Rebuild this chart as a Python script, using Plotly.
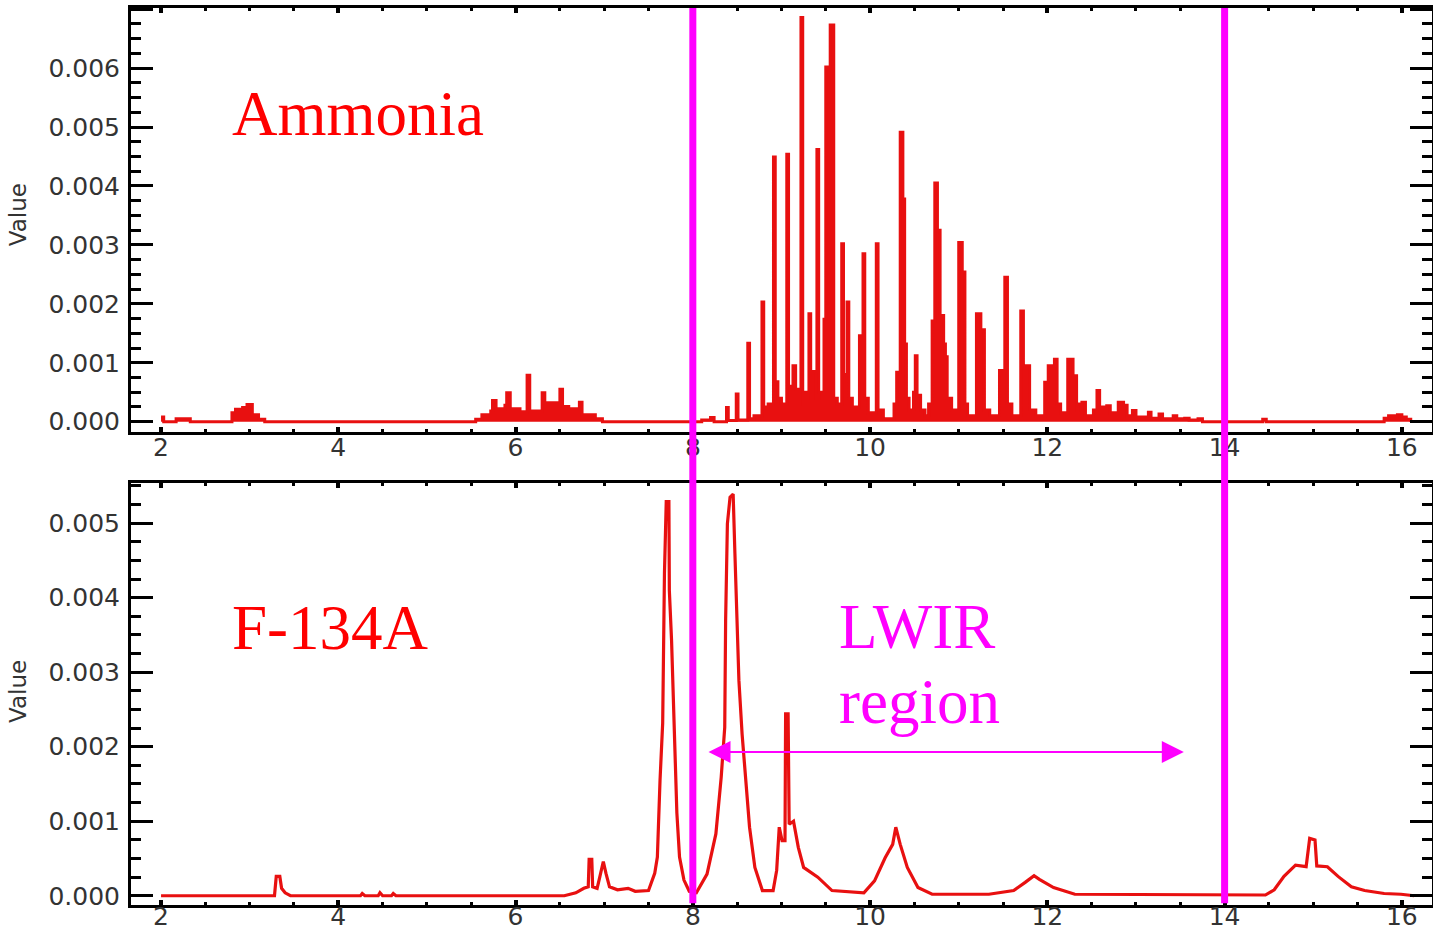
import plotly.graph_objects as go

# ---------------- data ----------------
amm_x = [2.00, 2.03, 2.17, 2.33, 2.80, 2.84, 2.92, 2.97, 3.03, 3.10, 3.17,
         5.55, 5.62, 5.72, 5.74, 5.78, 5.88, 5.90, 5.94, 6.05, 6.13, 6.16,
         6.30, 6.33, 6.50, 6.53, 6.60, 6.72, 6.75, 6.90, 6.98,
         8.10, 8.20, 8.24, 8.38, 8.40, 8.49, 8.51, 8.62, 8.64, 8.69, 8.78, 8.80,
         8.85, 8.91, 8.93, 8.96, 9.00, 9.06, 9.08, 9.13, 9.16, 9.22, 9.24, 9.26,
         9.31, 9.33, 9.36, 9.40, 9.42, 9.46, 9.48, 9.50, 9.55, 9.59, 9.63, 9.68,
         9.70, 9.74, 9.76, 9.80, 9.88, 9.90, 9.92, 9.94, 9.98, 10.07, 10.09,
         10.15, 10.27, 10.30, 10.34, 10.37, 10.39, 10.41, 10.44, 10.49, 10.51,
         10.53, 10.57, 10.62, 10.66, 10.70, 10.73, 10.76, 10.79, 10.83, 10.85,
         10.87, 10.92, 11.00, 11.04, 11.07, 11.10, 11.20, 11.25, 11.29, 11.35,
         11.46, 11.52, 11.55, 11.60, 11.70, 11.73, 11.80, 11.87, 11.97, 12.01,
         12.08, 12.11, 12.15, 12.23, 12.29, 12.33, 12.35, 12.39, 12.43, 12.52,
         12.56, 12.59, 12.67, 12.71, 12.80, 12.86, 12.90, 12.96, 13.00, 13.14,
         13.17, 13.26, 13.30, 13.42, 13.46, 13.55, 13.60, 13.70, 13.75,
         14.43, 14.47, 15.80, 15.85, 15.95, 16.00, 16.05, 16.10]
amm_y = [0.00008, 0.0, 0.00005, 0.0, 0.00015, 0.00021, 0.00024, 0.00029, 0.00012, 0.00004, 0.0,
         0.00004, 0.00012, 0.00018, 0.00036, 0.00022, 0.00028, 0.00049, 0.00022, 0.00017, 0.00079, 0.00018,
         0.00049, 0.00032, 0.00055, 0.00026, 0.00022, 0.00033, 0.00012, 0.00005, 0.0,
         0.00003, 0.00007, 0.0, 0.00024, 0.00002, 0.00047, 0.00003, 0.00133, 0.00005, 0.00010, 0.00203, 0.00025,
         0.00030, 0.00449, 0.00068, 0.00040, 0.00030, 0.00454, 0.00060, 0.00095, 0.00055, 0.00686, 0.00030, 0.00050,
         0.00183, 0.00040, 0.00085, 0.00462, 0.00050, 0.00040, 0.00174, 0.00602, 0.00673, 0.00040, 0.00030, 0.00302,
         0.00080, 0.00203, 0.00040, 0.00025, 0.00146, 0.00070, 0.00285, 0.00040, 0.00015, 0.00302, 0.00020,
         0.00005, 0.00030, 0.00084, 0.00491, 0.00378, 0.00132, 0.00040, 0.00020, 0.00050, 0.00112,
         0.00045, 0.00020, 0.00010, 0.00030, 0.00171, 0.00405, 0.00325, 0.00180, 0.00132, 0.00110,
         0.00040, 0.00020, 0.00304, 0.00254, 0.00030, 0.00010, 0.00183, 0.00156, 0.00020, 0.00010,
         0.00087, 0.00245, 0.00030, 0.00010, 0.00188, 0.00095, 0.00020, 0.00010, 0.00067, 0.00095,
         0.00106, 0.00030, 0.00015, 0.00106, 0.00078, 0.00020, 0.00030, 0.00033, 0.00010, 0.00020,
         0.00053, 0.00025, 0.00027, 0.00015, 0.00033, 0.00028, 0.00010, 0.00019, 0.00008, 0.00016,
         0.00006, 0.00013, 0.00005, 0.00010, 0.00005, 0.00006, 0.00003, 0.00005, 0.0,
         0.00004, 0.0, 0.00006, 0.00010, 0.00012, 0.00008, 0.00004, 0.0]

f134_x = [2.00, 3.28, 3.30, 3.34, 3.36, 3.40, 3.46, 4.25, 4.27, 4.30, 4.45, 4.47, 4.50,
          4.60, 4.62, 4.65, 6.55, 6.68, 6.77, 6.82, 6.83, 6.86, 6.87, 6.92, 6.95, 6.99,
          7.02, 7.06, 7.15, 7.27, 7.35, 7.50, 7.57, 7.60, 7.63, 7.66, 7.68, 7.70, 7.73,
          7.735, 7.76, 7.78, 7.80, 7.82, 7.85, 7.90, 7.96, 8.04, 8.16, 8.26, 8.32, 8.36,
          8.37, 8.39, 8.42, 8.455, 8.475, 8.495, 8.52, 8.556, 8.596, 8.64, 8.70, 8.785,
          8.906, 8.946, 8.975, 9.007, 9.04, 9.047, 9.075, 9.087, 9.136, 9.19, 9.25, 9.41,
          9.57, 9.93, 10.05, 10.17, 10.255, 10.29, 10.34, 10.42, 10.54, 10.70, 11.34,
          11.62, 11.75, 11.85, 11.91, 12.07, 12.31, 14.46, 14.56, 14.67, 14.80, 14.92,
          14.96, 15.02, 15.04, 15.16, 15.28, 15.43, 15.58, 15.80, 15.99, 16.14]
f134_y = [0.0, 0.0, 0.00026, 0.00026, 0.00010, 0.00004, 0.0, 0.0, 0.00003, 0.0, 0.0, 0.00004, 0.0,
          0.0, 0.00003, 0.0, 0.0, 0.00004, 0.00010, 0.00012, 0.00049, 0.00049, 0.00012, 0.00010, 0.00025, 0.00046,
          0.00030, 0.00012, 0.00008, 0.00010, 0.00006, 0.00007, 0.00030, 0.00052, 0.00155, 0.00232, 0.00433, 0.00529, 0.00529,
          0.00410, 0.00343, 0.00263, 0.00173, 0.00111, 0.00052, 0.00021, 0.00006, 0.00004, 0.00029, 0.00083, 0.00159, 0.00226,
          0.00369, 0.00499, 0.00535, 0.00539, 0.00459, 0.00383, 0.00289, 0.00217, 0.00159, 0.00092, 0.00038, 0.00007,
          0.00007, 0.00034, 0.00092, 0.00074, 0.00074, 0.00244, 0.00244, 0.00096, 0.00100, 0.00065, 0.00038, 0.00025,
          0.00007, 0.00004, 0.00020, 0.00051, 0.00069, 0.00092, 0.00069, 0.00038, 0.00011, 0.00002, 0.00002,
          0.00007, 0.00018, 0.00027, 0.00022, 0.00011, 0.00002, 0.00001, 0.00008, 0.00026, 0.00041, 0.00039,
          0.00077, 0.00075, 0.00040, 0.00039, 0.00026, 0.00012, 0.00007, 0.00003, 0.00002, 0.0]

lwir_bounds = [8, 14]          # magenta region limits (micrometres)
arrow_span = [8.16, 13.54]     # double arrow extent
arrow_level = 0.00193
x_ticks = [2, 4, 6, 8, 10, 12, 14, 16]

RED = "rgb(232,16,16)"
MAG = "#FF00FF"
tickfont = dict(family="DejaVu Sans", size=25, color="#333333")

fig = go.Figure()
fig.add_trace(go.Scatter(x=amm_x, y=amm_y, mode="lines", line=dict(color=RED, width=3, shape="hv"),
                         fill="tozeroy", fillcolor=RED,
                         xaxis="x", yaxis="y", showlegend=False))
fig.add_trace(go.Scatter(x=f134_x, y=f134_y, mode="lines", line=dict(color=RED, width=3.2),
                         xaxis="x2", yaxis="y2", showlegend=False))

common_x = dict(range=[1.661, 16.34], tickvals=x_ticks, ticks="inside", ticklen=5, tickwidth=4,
                tickcolor="black", showline=True, linewidth=3, linecolor="black", mirror="allticks",
                showgrid=False, zeroline=False, tickfont=tickfont, automargin=False,
                minor=dict(dtick=0.5, tick0=2, ticks="inside", ticklen=3, tickwidth=3, tickcolor="black"))
common_y = dict(ticks="inside", ticklen=22, tickwidth=3, tickcolor="black", showline=True, linewidth=3,
                linecolor="black", mirror="allticks", showgrid=False, zeroline=False, tickfont=tickfont,
                tickformat=".3f", dtick=0.001, tick0=0, ticklabelstandoff=3, automargin=False,
                minor=dict(dtick=0.00025, ticks="inside", ticklen=10, tickwidth=3, tickcolor="black"))

fig.update_layout(
    width=1433, height=932,
    margin=dict(l=131, r=1, t=8, b=27, autoexpand=False),
    paper_bgcolor="white", plot_bgcolor="white",
    xaxis=dict(domain=[0, 1], anchor="y", ticklabelstandoff=-9, **common_x),
    yaxis=dict(domain=[0.5273, 1], anchor="x", range=[-0.000175, 0.00702], **common_y),
    xaxis2=dict(domain=[0, 1], anchor="y2", ticklabelstandoff=-13, **common_x),
    yaxis2=dict(domain=[0, 0.4705], anchor="x2", range=[-0.000124, 0.00554], **common_y),
)

for xb in lwir_bounds:
    fig.add_shape(type="line", xref="x", yref="paper", x0=xb, x1=xb, y0=0.002, y1=1,
                  line=dict(color=MAG, width=7), layer="above")

serif = "Liberation Serif, Times New Roman, serif"
fig.add_annotation(xref="x", yref="y", x=2.779, y=0.005224, text="Ammonia", showarrow=False,
                   xanchor="left", yanchor="middle", font=dict(family=serif, size=63, color="red"))
fig.add_annotation(xref="x2", yref="y2", x=2.779, y=0.003593, text="F-134A", showarrow=False,
                   xanchor="left", yanchor="middle", font=dict(family=serif, size=63, color="red"))
fig.add_annotation(xref="x2", yref="y2", x=9.628, y=0.003607, text="LWIR", showarrow=False,
                   xanchor="left", yanchor="middle", font=dict(family=serif, size=63, color=MAG))
fig.add_annotation(xref="x2", yref="y2", x=9.628, y=0.0026, text="region", showarrow=False,
                   xanchor="left", yanchor="middle", font=dict(family=serif, size=63, color=MAG))

# double-headed arrow
fig.add_annotation(xref="x2", yref="y2", axref="x2", ayref="y2",
                   x=arrow_span[1], y=arrow_level, ax=arrow_span[0], ay=arrow_level,
                   text="", showarrow=True, arrowhead=2, arrowside="end+start",
                   arrowsize=2.2, arrowwidth=2, arrowcolor=MAG)

# "Value" axis labels at the left page edge
for yc in [0.769, 0.2375]:
    fig.add_annotation(xref="paper", yref="paper", x=-0.0753, y=yc, text="Value", showarrow=False,
                       textangle=-90, xanchor="right", yanchor="middle",
                       font=dict(family="DejaVu Sans", size=23, color="#333333"))

fig.write_html("out.html")
